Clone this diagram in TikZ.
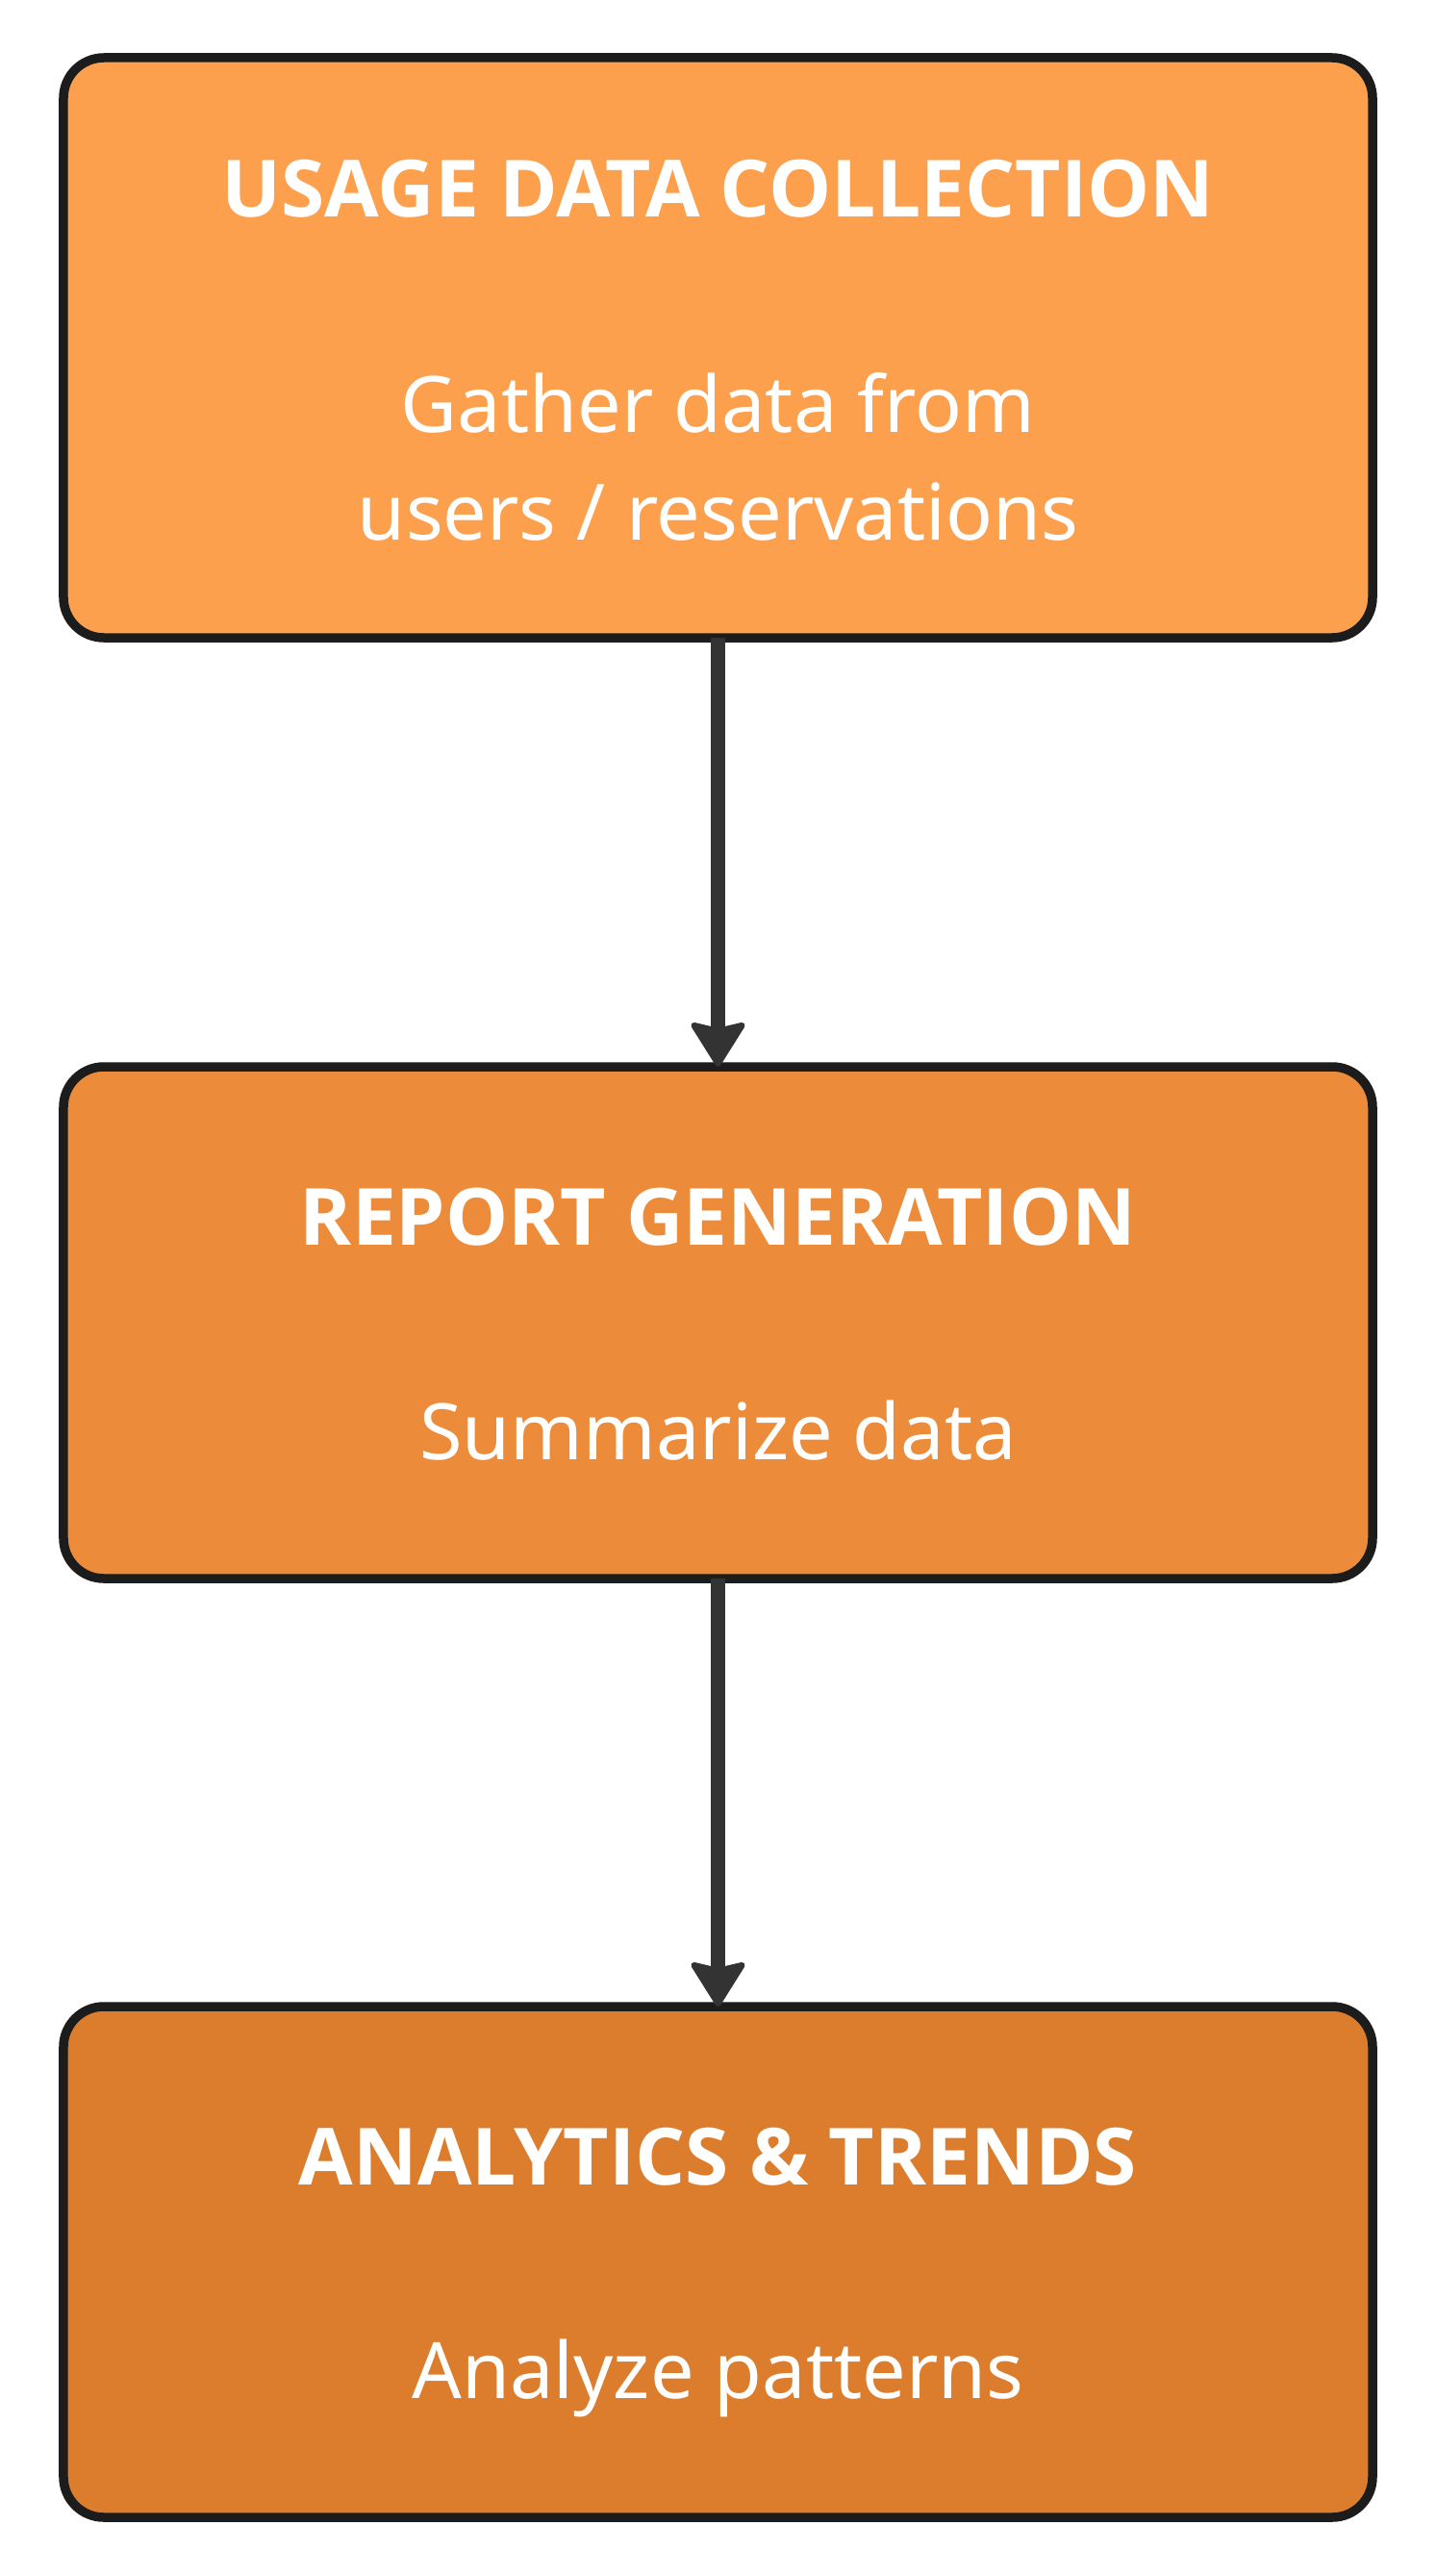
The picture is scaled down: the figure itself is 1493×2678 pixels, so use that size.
\documentclass[tikz,border=0pt]{standalone}
\usepackage{fontspec}
\setmainfont{Noto Sans}
\newfontfamily\titlefont{Open Sans}
\usetikzlibrary{arrows.meta}
\definecolor{fillA}{HTML}{FDA04E}
\definecolor{fillB}{HTML}{EC8C3A}
\definecolor{fillC}{HTML}{DB7D2C}
\definecolor{edgeK}{HTML}{1C1C1C}
\definecolor{arrowK}{HTML}{333333}
\tikzset{
  stagebox/.style={draw=edgeK, line width=9.5bp, rounded corners=42bp,
    minimum width=1361bp, inner sep=0pt, outer sep=0pt},
  titletext/.style={text=white, anchor=base, inner sep=0pt,
    font=\titlefont\bfseries\fontsize{82bp}{98bp}\selectfont},
  bodytext/.style={text=white, anchor=base, inner sep=0pt, align=center,
    font=\fontsize{81bp}{112bp}\selectfont},
  flow/.style={draw=arrowK, line width=15bp,
    -{Stealth[length=50bp,width=62bp,inset=7bp,line width=6bp,round,fill=arrowK]}}
}
\begin{document}
\begin{tikzpicture}[x=1bp,y=-1bp]
\useasboundingbox[fill=white] (0,0) rectangle (1493,2678);
\node[stagebox, fill=fillA, minimum height=603bp] (b1) at (746.5,361.5) {};
\node[stagebox, fill=fillB, minimum height=532bp] (b2) at (746.5,1375) {};
\node[stagebox, fill=fillC, minimum height=531bp] (b3) at (746.5,2351.5) {};
\node[titletext] (t1) at (746.5,225) {USAGE DATA COLLECTION};
\node[bodytext] (d1a) at (746.5,449) {Gather data from};
\node[bodytext] (d1b) at (746.5,561) {users / reservations};
\node[titletext] (t2) at (746.5,1294) {REPORT GENERATION};
\node[bodytext] (d2) at (746.5,1517) {Summarize data};
\node[titletext] (t3) at (746.5,2271) {ANALYTICS \& TRENDS};
\node[bodytext] (d3) at (746.5,2493) {Analyze patterns};
\draw[flow] (b1.south) -- (b2.north);
\draw[flow] (b2.south) -- (b3.north);
\end{tikzpicture}
\end{document}
